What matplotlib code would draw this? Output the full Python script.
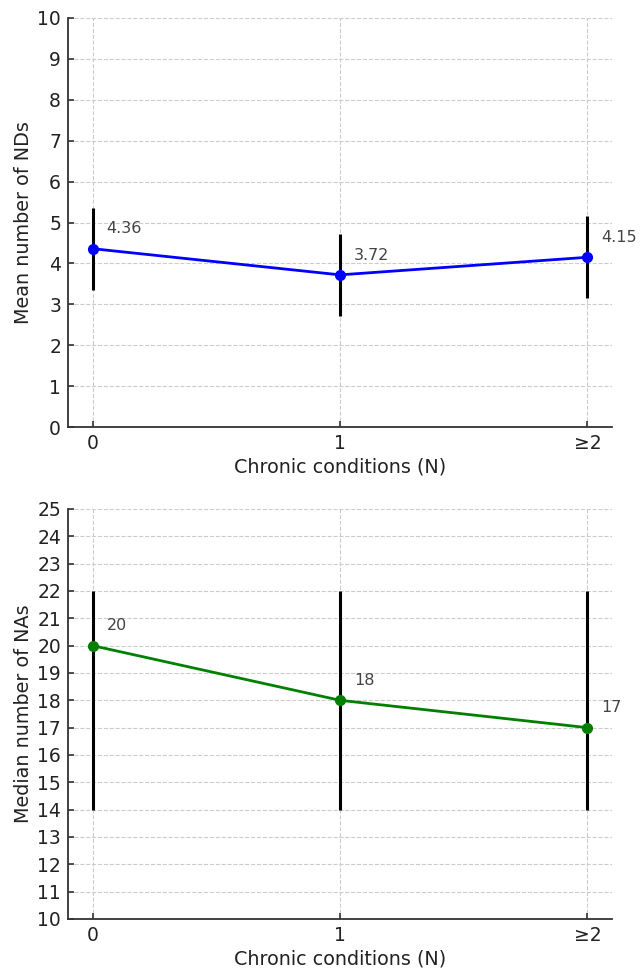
import matplotlib.pyplot as plt

# Datos de los dos paneles
categorias = ["0", "1", "≥2"]
x_pos = [0, 1, 2]

media_nds = [4.36, 3.72, 4.15]
error_nds = [1.0, 1.0, 1.0]

mediana_nas = [20, 18, 17]
nas_bajo = [14, 14, 14]
nas_alto = [22, 22, 22]

fig = plt.figure(figsize=(6.41, 9.71), dpi=100)
ax1 = fig.add_axes([0.106, 0.5602, 0.849, 0.4213])
ax2 = fig.add_axes([0.106, 0.0536, 0.849, 0.4222])


def estilo(ax, ylim, yticks, ylabel):
    ax.set_xlim(-0.1, 2.1)
    ax.set_ylim(*ylim)
    ax.set_yticks(yticks)
    ax.set_xticks(x_pos)
    ax.set_xticklabels(categorias)
    ax.grid(True, linestyle='--', color='#cccccc', linewidth=0.8)
    ax.set_axisbelow(True)
    for lado in ["top", "right"]:
        ax.spines[lado].set_visible(False)
    for lado in ["left", "bottom"]:
        ax.spines[lado].set_color('#333333')
        ax.spines[lado].set_linewidth(1.3)
    ax.tick_params(direction='in', length=4, width=1.2, color='#333333',
                   labelsize=13.5, labelcolor='#222222', pad=5)
    ax.set_xlabel("Chronic conditions (N)", fontsize=13.8, color='#222222', labelpad=3)
    ax.set_ylabel(ylabel, fontsize=13.8, color='#222222', labelpad=3)


# Panel superior: media de NDs
ax1.errorbar(x_pos, media_nds, yerr=error_nds, fmt='none', ecolor='black', elinewidth=2.2, zorder=2)
ax1.plot(x_pos, media_nds, color='blue', marker='o', markersize=7, linewidth=2, zorder=3)
for x, y in zip(x_pos, media_nds):
    ax1.annotate(f"{y:.2f}", (x, y), textcoords="offset points", xytext=(10, 11),
                 fontsize=11.5, color='#444444')
estilo(ax1, (0, 10), range(0, 11), "Mean number of NDs")

# Panel inferior: mediana de NAs
err_inf = [m - b for m, b in zip(mediana_nas, nas_bajo)]
err_sup = [a - m for m, a in zip(mediana_nas, nas_alto)]
ax2.errorbar(x_pos, mediana_nas, yerr=[err_inf, err_sup], fmt='none', ecolor='black', elinewidth=2.2, zorder=2)
ax2.plot(x_pos, mediana_nas, color='green', marker='o', markersize=7, linewidth=2, zorder=3)
for x, y in zip(x_pos, mediana_nas):
    ax2.annotate(f"{y}", (x, y), textcoords="offset points", xytext=(10, 11),
                 fontsize=11.5, color='#444444')
estilo(ax2, (10, 25), range(10, 26), "Median number of NAs")

fig.savefig("out.png", dpi=100)
